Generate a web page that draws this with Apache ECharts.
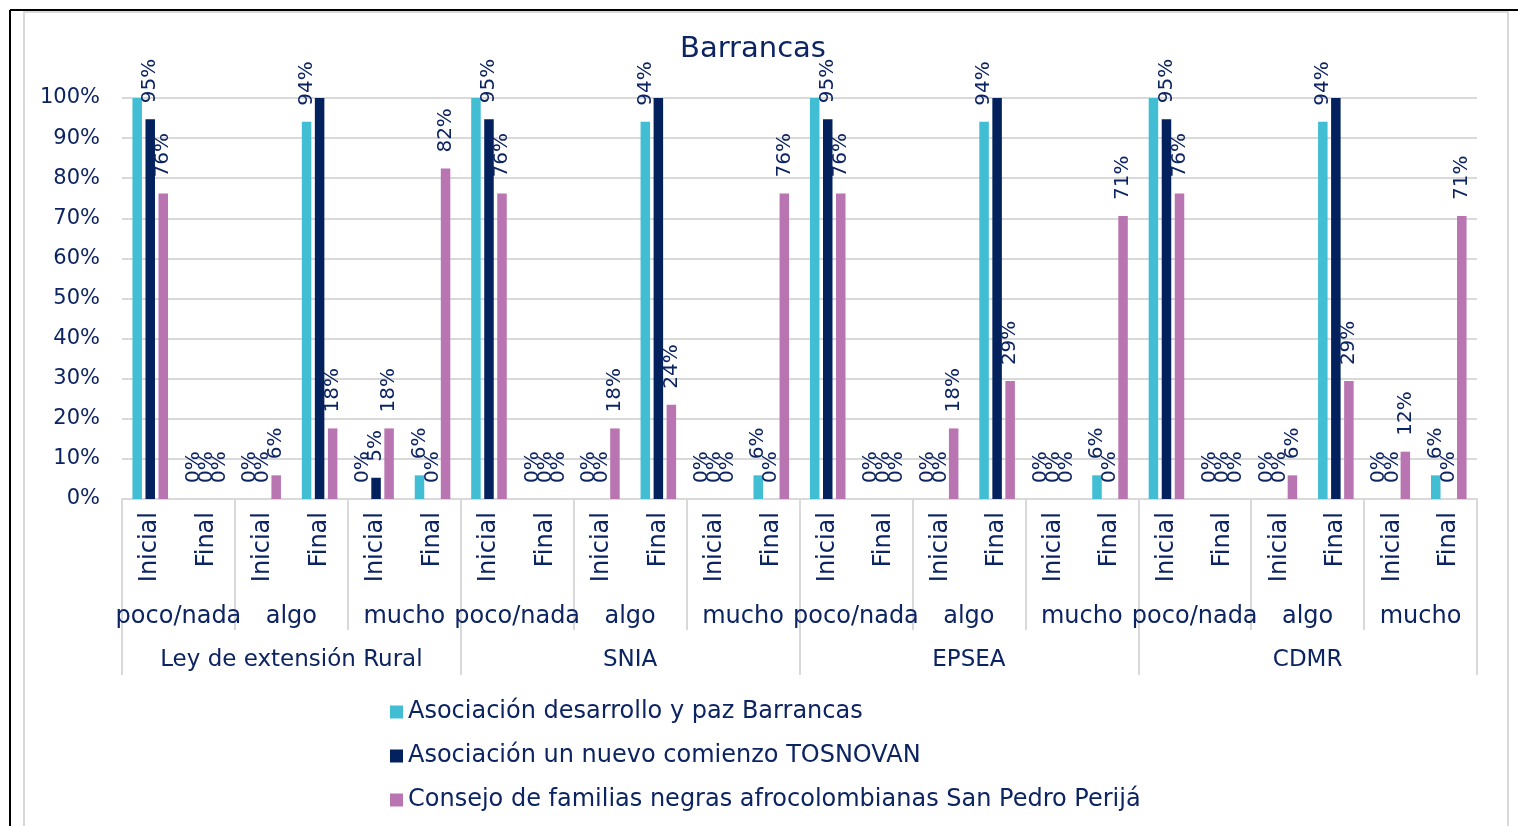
<!DOCTYPE html>
<html>
<head>
<meta charset="utf-8">
<title>Barrancas</title>
<style>
  html, body { margin: 0; padding: 0; background: #fff; }
  #chart { width: 1518px; height: 826px; }
</style>
</head>
<body>
<div id="chart"></div>
<script src="https://cdn.jsdelivr.net/npm/echarts@6/dist/echarts.min.js"></script>
<script>
// categorias (3 niveles)
var grupos = ['Ley de extensión Rural', 'SNIA', 'EPSEA', 'CDMR'];
var nivelNombres = ['poco/nada', 'algo', 'mucho'];
var etapaNombres = ['Inicial', 'Final'];
var etapas = [];
var niveles = [];
for (var g = 0; g < grupos.length; g++) {
  for (var n = 0; n < nivelNombres.length; n++) {
    niveles.push(nivelNombres[n]);
    for (var e = 0; e < etapaNombres.length; e++) etapas.push(etapaNombres[e]);
  }
}

var serieNombres = [
  'Asociación desarrollo y paz Barrancas',
  'Asociación un nuevo comienzo TOSNOVAN',
  'Consejo de familias negras afrocolombianas San Pedro Perijá'
];

// valores en %
var desarrollo = [100, 0, 0, 94.1, 0, 5.9,  100, 0, 0, 94.1, 0, 5.9,  100, 0, 0, 94.1, 0, 5.9,  100, 0, 0, 94.1, 0, 5.9];
var tosnovan   = [94.7, 0, 0, 100, 5.3, 0,  94.7, 0, 0, 100, 0, 0,    94.7, 0, 0, 100, 0, 0,    94.7, 0, 0, 100, 0, 0];
var consejo    = [76.2, 0, 5.9, 17.6, 17.6, 82.4,  76.2, 0, 17.6, 23.5, 0, 76.2,  76.2, 0, 17.6, 29.4, 0, 70.6,  76.2, 0, 5.9, 29.4, 11.8, 70.6];

var colores = ['#41bdd4', '#02215d', '#b975b1'];
var azul = '#0d2463';
var fuente = 'DejaVu Sans';

var chart = echarts.init(document.getElementById('chart'));

function serie(nombre, datos, i) {
  return {
    name: nombre,
    type: 'bar',
    data: datos,
    barGap: '37%',
    barCategoryGap: '37%',
    itemStyle: { color: colores[i] },
    label: {
      show: true,
      position: 'top',
      rotate: 90,
      align: 'left',
      verticalAlign: 'middle',
      distance: 16,
      fontSize: 20,
      fontFamily: fuente,
      color: azul,
      formatter: function (p) {
        if (p.value >= 100) return '';  // sin etiqueta en 100%
        return Math.round(p.value) + '%';
      }
    }
  };
}

var option = {
  backgroundColor: '#fff',
  animation: false,
  textStyle: { fontFamily: fuente },
  title: {
    text: 'Barrancas',
    left: 680,
    top: 35,
    padding: 0,
    textStyle: { fontSize: 29, fontWeight: 'normal', color: azul, fontFamily: fuente }
  },
  legend: {
    orient: 'vertical',
    left: 390,
    top: 699,
    padding: 0,
    itemWidth: 13,
    itemHeight: 13,
    itemGap: 18,
    icon: 'rect',
    textStyle: { fontSize: 24, lineHeight: 26, color: azul, fontFamily: fuente },
    data: serieNombres
  },
  grid: { left: 122, right: 41, top: 98, bottom: 327, containLabel: false },
  yAxis: {
    type: 'value',
    min: 0,
    max: 100,
    interval: 10,
    axisLabel: { formatter: '{value}%', fontSize: 21, color: azul, margin: 22, fontFamily: fuente },
    axisLine: { show: false },
    axisTick: { show: false },
    splitLine: { lineStyle: { color: '#d9d9d9', width: 2 } }
  },
  xAxis: [
    {
      type: 'category',
      data: etapas,
      axisLine: { lineStyle: { color: '#d9d9d9', width: 2 } },
      axisTick: { show: false },
      axisLabel: { rotate: 90, fontSize: 24, color: azul, margin: 13, fontFamily: fuente, interval: 0 }
    },
    {
      type: 'category',
      data: niveles,
      position: 'bottom',
      axisLine: { show: false },
      axisTick: { show: true, length: 131, lineStyle: { color: '#d9d9d9', width: 2 } },
      axisLabel: { fontSize: 24, color: azul, margin: 106, fontFamily: fuente, interval: 0 }
    },
    {
      type: 'category',
      data: grupos,
      position: 'bottom',
      axisLine: { show: false },
      axisTick: { show: true, length: 176, lineStyle: { color: '#d9d9d9', width: 2 } },
      axisLabel: { fontSize: 23, color: azul, margin: 150, fontFamily: fuente, interval: 0 }
    }
  ],
  series: [
    serie(serieNombres[0], desarrollo, 0),
    serie(serieNombres[1], tosnovan, 1),
    serie(serieNombres[2], consejo, 2)
  ],
  graphic: [
    { type: 'rect', shape: { x: 24, y: 12, width: 1484, height: 830 }, style: { fill: null, stroke: '#d9d9d9', lineWidth: 2 }, z: -1 },
    { type: 'line', shape: { x1: 10, y1: 10, x2: 1518, y2: 10 }, style: { stroke: '#000', lineWidth: 2 } },
    { type: 'line', shape: { x1: 10, y1: 10, x2: 10, y2: 826 }, style: { stroke: '#000', lineWidth: 2 } }
  ]
};

chart.setOption(option);
</script>
</body>
</html>
